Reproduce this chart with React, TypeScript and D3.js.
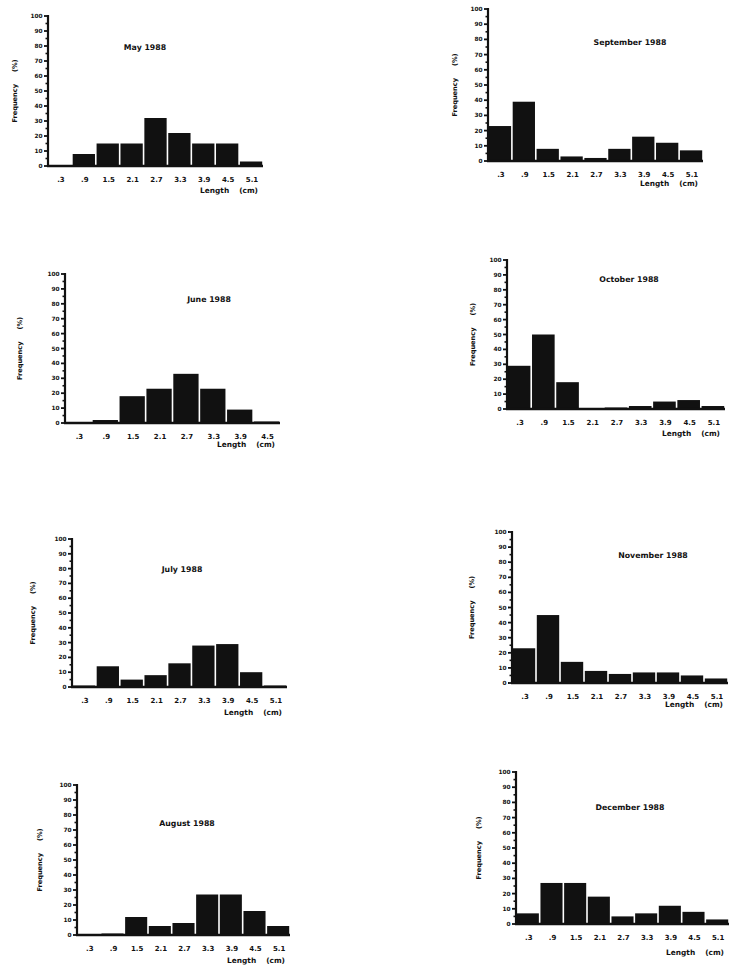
import React from "react";
import * as d3 from "d3";

// Length classes (cm)
const lengthBins = [".3", ".9", "1.5", "2.1", "2.7", "3.3", "3.9", "4.5", "5.1"];
const lengthBinsJune = [".3", ".9", "1.5", "2.1", "2.7", "3.3", "3.9", "4.5"];

// Monthly length-frequency (%)
const mayValues = [0, 8, 15, 15, 32, 22, 15, 15, 3];
const juneValues = [0, 2, 18, 23, 33, 23, 9, 1];
const julyValues = [1, 14, 5, 8, 16, 28, 29, 10, 1];
const augustValues = [0, 1, 12, 6, 8, 27, 27, 16, 6];
const septemberValues = [23, 39, 8, 3, 2, 8, 16, 12, 7];
const octoberValues = [29, 50, 18, 0, 1, 2, 5, 6, 2];
const novemberValues = [23, 45, 14, 8, 6, 7, 7, 5, 3];
const decemberValues = [7, 27, 27, 18, 5, 7, 12, 8, 3];

const titles = [
  "May 1988",
  "June 1988",
  "July 1988",
  "August 1988",
  "September 1988",
  "October 1988",
  "November 1988",
  "December 1988",
];

const yTicks = [0, 10, 20, 30, 40, 50, 60, 70, 80, 90, 100];
const yMinorTicks = [5, 15, 25, 35, 45, 55, 65, 75, 85, 95];

// Panel placement: y-axis x, y at 100%, y at 0%, right end of x-axis,
// y-label offset, title centre, x-label offset
type Layout = {
  x0: number;
  top: number;
  zero: number;
  x1: number;
  fx: number;
  tx: number;
  ty: number;
  ly: number;
};

const layouts: Layout[] = [
  { x0: 48, top: 16, zero: 166, x1: 263, fx: -33, tx: 145, ty: 50, ly: 27 },
  { x0: 65, top: 274, zero: 423, x1: 280, fx: -45, tx: 209, ty: 302, ly: 24 },
  { x0: 72, top: 539, zero: 687, x1: 287, fx: -39, tx: 182, ty: 572, ly: 28 },
  { x0: 77, top: 785, zero: 935, x1: 290, fx: -37, tx: 187, ty: 826, ly: 28 },
  { x0: 488, top: 9, zero: 161, x1: 703, fx: -33, tx: 630, ty: 45, ly: 25 },
  { x0: 507, top: 260, zero: 409, x1: 725, fx: -34, tx: 629, ty: 282, ly: 27 },
  { x0: 512, top: 532, zero: 683, x1: 728, fx: -40, tx: 653, ty: 558, ly: 24 },
  { x0: 516, top: 772, zero: 924, x1: 729, fx: -37, tx: 630, ty: 810, ly: 31 },
];

const series = [
  { title: titles[0], bins: lengthBins, values: mayValues },
  { title: titles[1], bins: lengthBinsJune, values: juneValues },
  { title: titles[2], bins: lengthBins, values: julyValues },
  { title: titles[3], bins: lengthBins, values: augustValues },
  { title: titles[4], bins: lengthBins, values: septemberValues },
  { title: titles[5], bins: lengthBins, values: octoberValues },
  { title: titles[6], bins: lengthBins, values: novemberValues },
  { title: titles[7], bins: lengthBins, values: decemberValues },
];

const INK = "#111";
const FONT = "'DejaVu Sans', Arial, sans-serif";

function Histogram({
  title,
  bins,
  values,
  layout,
}: {
  title: string;
  bins: string[];
  values: number[];
  layout: Layout;
}) {
  const { x0, top, zero, x1, fx, tx, ty, ly } = layout;
  const y = d3.scaleLinear().domain([0, 100]).range([zero, top]);
  const x = d3.scaleBand<string>().domain(bins).range([x0, x1]).paddingInner(0);
  const bw = x.bandwidth();
  const midY = (top + zero) / 2;
  const labelX = x0 + fx;

  return (
    <g>
      {/* bars */}
      {values.map((v, i) =>
        v > 0 ? (
          <rect
            key={i}
            x={(x(bins[i]) as number) + 0.8}
            y={y(v)}
            width={bw - 1.6}
            height={zero - y(v)}
            fill={INK}
          />
        ) : null
      )}

      {/* y axis */}
      <line x1={x0} x2={x0} y1={top - 1} y2={zero + 1} stroke={INK} strokeWidth={2.2} />
      {yTicks.map((t) => (
        <g key={t}>
          <line x1={x0 - 4} x2={x0} y1={y(t)} y2={y(t)} stroke={INK} strokeWidth={1.8} />
          <text
            x={x0 - 5.5}
            y={y(t)}
            dy="0.35em"
            textAnchor="end"
            fontFamily={FONT}
            fontWeight="bold"
            fontSize={5.8}
            fill={INK}
          >
            {t}
          </text>
        </g>
      ))}
      {yMinorTicks.map((t) => (
        <line key={t} x1={x0 - 2.5} x2={x0} y1={y(t)} y2={y(t)} stroke={INK} strokeWidth={1.6} />
      ))}

      {/* x axis */}
      <line x1={x0 - 1} x2={x1} y1={zero} y2={zero} stroke={INK} strokeWidth={2.4} />
      {bins.map((b) => (
        <text
          key={b}
          x={(x(b) as number) + bw / 2 + 1}
          y={zero + 16}
          textAnchor="middle"
          fontFamily={FONT}
          fontWeight="bold"
          fontSize={7}
          fill={INK}
        >
          {b}
        </text>
      ))}
      <text
        x={x1 - 5}
        y={zero + ly}
        textAnchor="end"
        fontFamily={FONT}
        fontWeight="bold"
        fontSize={7.4}
        fill={INK}
      >
        Length<tspan dx={10}>(cm)</tspan>
      </text>

      {/* y label */}
      <text
        transform={`translate(${labelX},${midY}) rotate(-90)`}
        textAnchor="middle"
        dy="0.35em"
        fontFamily={FONT}
        fontWeight="bold"
        fontSize={6.6}
        fill={INK}
      >
        Frequency<tspan dx={12}>(%)</tspan>
      </text>

      {/* title */}
      <text
        x={tx}
        y={ty}
        textAnchor="middle"
        fontFamily={FONT}
        fontWeight="bold"
        fontSize={7.8}
        fill={INK}
      >
        {title}
      </text>
    </g>
  );
}

export default function App() {
  return (
    <svg
      width={729}
      height={967}
      viewBox="0 0 729 967"
      style={{ position: "absolute", left: 0, top: 0, background: "#fff" }}
    >
      <rect width={729} height={967} fill="#fff" />
      {series.map((s, i) => (
        <Histogram key={s.title} title={s.title} bins={s.bins} values={s.values} layout={layouts[i]} />
      ))}
    </svg>
  );
}
